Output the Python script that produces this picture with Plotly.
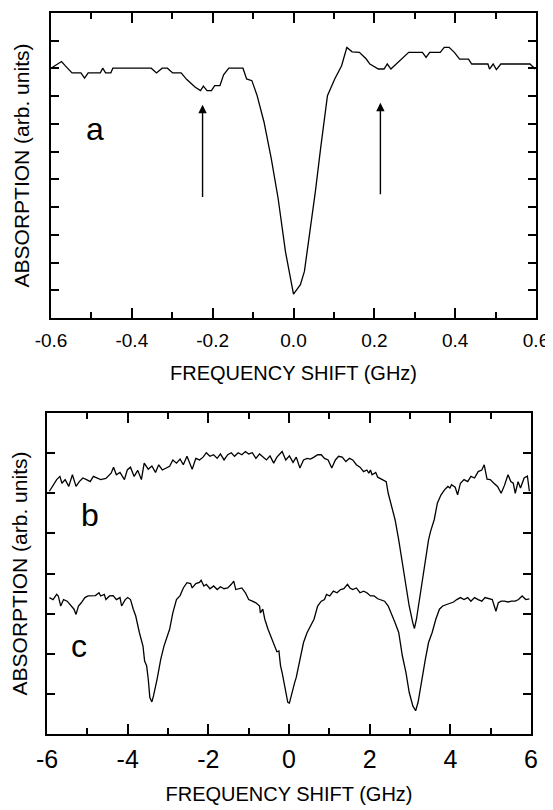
import plotly.graph_objects as go

# ---- panel a (top) ----
a_x = [-0.600, -0.574, -0.565, -0.548, -0.526, -0.517, -0.508, -0.478, -0.472, -0.465,
       -0.452, -0.447, -0.352, -0.339, -0.325, -0.312, -0.299, -0.278, -0.264, -0.243,
       -0.230, -0.223, -0.214, -0.203, -0.195, -0.182, -0.173, -0.160, -0.125, -0.116,
       -0.103, -0.090, -0.073, -0.055, -0.038, -0.020, 0.000, 0.017, 0.027, 0.041,
       0.054, 0.067, 0.084, 0.102, 0.119, 0.132, 0.145, 0.163, 0.180, 0.189,
       0.210, 0.224, 0.232, 0.241, 0.254, 0.267, 0.285, 0.319, 0.328, 0.337,
       0.363, 0.373, 0.385, 0.398, 0.411, 0.433, 0.441, 0.481, 0.485, 0.494,
       0.502, 0.513, 0.585, 0.598]
a_y = [9.01, 9.25, 9.10, 8.84, 8.84, 8.65, 8.84, 8.84, 9.01, 8.84,
       8.84, 9.01, 9.01, 8.84, 9.01, 9.01, 8.84, 8.84, 8.60, 8.32,
       8.20, 8.36, 8.20, 8.20, 8.38, 8.38, 8.77, 9.01, 9.01, 8.62,
       8.56, 8.02, 7.07, 5.75, 4.31, 2.40, 0.86, 1.20, 1.68, 3.11,
       4.55, 6.11, 8.02, 8.62, 9.10, 9.76, 9.60, 9.58, 9.34, 9.16,
       8.98, 8.98, 9.16, 8.98, 9.16, 9.34, 9.58, 9.58, 9.40, 9.58,
       9.58, 9.76, 9.76, 9.58, 9.34, 9.34, 9.16, 9.16, 8.98, 9.16,
       8.96, 9.16, 9.16, 8.98]
a_xticks = [-0.6, -0.4, -0.2, 0.0, 0.2, 0.4, 0.6]
a_xticklabels = ["-0.6", "-0.4", "-0.2", "0.0", "0.2", "0.4", "0.6"]
a_arrow_x = [-0.225, 0.215]
a_arrow_tail = [4.31, 4.41]
a_arrow_head = [7.69, 7.76]

# ---- panels b, c (bottom) ----
b_x = [-5.94, -5.85, -5.76, -5.68, -5.63, -5.55, -5.46, -5.37, -5.33, -5.28,
       -5.20, -5.11, -5.02, -4.93, -4.85, -4.76, -4.67, -4.54, -4.41, -4.35,
       -4.28, -4.19, -4.08, -4.01, -3.93, -3.84, -3.75, -3.66, -3.59, -3.49,
       -3.40, -3.31, -3.23, -3.14, -3.05, -2.96, -2.88, -2.79, -2.70, -2.62,
       -2.53, -2.40, -2.31, -2.22, -2.13, -2.05, -1.96, -1.87, -1.78, -1.70,
       -1.61, -1.52, -1.43, -1.35, -1.26, -1.17, -1.08, -1.00, -0.91, -0.82,
       -0.73, -0.65, -0.56, -0.47, -0.38, -0.30, -0.17, -0.08, 0.01, 0.10,
       0.18, 0.27, 0.36, 0.45, 0.53, 0.62, 0.71, 0.80, 0.88, 0.97,
       1.06, 1.15, 1.23, 1.32, 1.41, 1.50, 1.58, 1.67, 1.76, 1.85,
       1.93, 1.98, 2.02, 2.06, 2.15, 2.20, 2.28, 2.41, 2.46, 2.55,
       2.63, 2.72, 2.81, 2.90, 2.98, 3.07, 3.11, 3.16, 3.25, 3.33,
       3.42, 3.46, 3.51, 3.60, 3.68, 3.77, 3.86, 3.94, 3.99, 4.03,
       4.12, 4.18, 4.25, 4.34, 4.43, 4.51, 4.60, 4.69, 4.78, 4.84,
       4.91, 4.99, 5.08, 5.17, 5.26, 5.34, 5.43, 5.50, 5.56, 5.61,
       5.68, 5.74, 5.83, 5.91, 5.96]
b_y = [6.05, 6.21, 6.34, 6.42, 6.25, 6.34, 6.17, 6.46, 6.34, 6.17,
       6.29, 6.38, 6.34, 6.29, 6.42, 6.38, 6.34, 6.37, 6.50, 6.65,
       6.46, 6.52, 6.34, 6.58, 6.65, 6.42, 6.57, 6.34, 6.75, 6.60,
       6.68, 6.52, 6.71, 6.58, 6.63, 6.67, 6.83, 6.75, 6.85, 6.71,
       6.92, 6.60, 6.87, 6.83, 6.90, 7.01, 6.92, 6.96, 6.87, 6.98,
       6.83, 6.96, 7.01, 6.92, 7.01, 6.96, 7.04, 6.98, 7.01, 6.87,
       6.98, 6.90, 6.83, 6.93, 6.75, 6.90, 7.04, 6.83, 6.93, 6.77,
       6.90, 6.63, 6.83, 6.87, 6.85, 6.90, 6.96, 6.96, 6.87, 6.83,
       6.63, 6.83, 6.92, 6.90, 6.79, 6.87, 6.83, 6.71, 6.65, 6.54,
       6.58, 6.50, 6.58, 6.46, 6.52, 6.40, 6.35, 6.29, 6.00, 5.67,
       5.34, 4.84, 4.27, 3.69, 3.19, 2.77, 2.63, 2.86, 3.44, 4.02,
       4.51, 4.84, 5.05, 5.34, 5.76, 5.96, 6.09, 6.17, 6.13, 6.21,
       6.15, 5.96, 6.25, 6.34, 6.29, 6.42, 6.38, 6.54, 6.58, 6.71,
       6.35, 6.34, 6.25, 6.17, 6.00, 6.19, 6.46, 6.29, 6.25, 6.00,
       6.29, 6.13, 6.38, 6.43, 6.05]

c_x = [-5.94, -5.85, -5.76, -5.72, -5.66, -5.59, -5.50, -5.41, -5.33, -5.28,
       -5.22, -5.15, -5.06, -4.98, -4.89, -4.80, -4.71, -4.67, -4.58, -4.54,
       -4.45, -4.36, -4.28, -4.19, -4.15, -4.06, -4.00, -3.93, -3.86, -3.80,
       -3.71, -3.62, -3.58, -3.53, -3.49, -3.45, -3.40, -3.36, -3.27, -3.18,
       -3.10, -3.01, -2.96, -2.88, -2.79, -2.70, -2.62, -2.53, -2.44, -2.40,
       -2.31, -2.22, -2.18, -2.11, -2.05, -1.96, -1.87, -1.78, -1.70, -1.61,
       -1.52, -1.43, -1.37, -1.32, -1.23, -1.17, -1.08, -1.00, -0.91, -0.82,
       -0.73, -0.71, -0.65, -0.60, -0.52, -0.43, -0.34, -0.30, -0.25, -0.21,
       -0.17, -0.12, -0.08, -0.03, 0.01, 0.05, 0.10, 0.14, 0.18, 0.27,
       0.36, 0.45, 0.53, 0.62, 0.71, 0.80, 0.88, 0.93, 1.01, 1.10,
       1.19, 1.28, 1.36, 1.45, 1.51, 1.58, 1.67, 1.76, 1.85, 1.93,
       2.02, 2.11, 2.20, 2.28, 2.37, 2.46, 2.55, 2.63, 2.72, 2.81,
       2.90, 2.98, 3.07, 3.14, 3.20, 3.29, 3.38, 3.46, 3.55, 3.64,
       3.73, 3.81, 3.90, 3.99, 4.08, 4.16, 4.25, 4.34, 4.43, 4.51,
       4.60, 4.69, 4.78, 4.86, 4.95, 5.04, 5.13, 5.19, 5.26, 5.34,
       5.43, 5.52, 5.61, 5.69, 5.78, 5.87, 5.96]
c_y = [3.40, 3.35, 3.48, 3.44, 3.19, 3.35, 3.31, 3.19, 3.11, 2.98,
       3.19, 3.27, 3.40, 3.44, 3.44, 3.45, 3.52, 3.44, 3.48, 3.35,
       3.44, 3.45, 3.35, 3.40, 3.19, 3.35, 3.40, 3.35, 3.11, 2.94,
       2.53, 2.19, 1.82, 1.70, 1.37, 0.91, 0.80, 0.95, 1.37, 1.86,
       2.19, 2.44, 2.61, 3.02, 3.35, 3.45, 3.64, 3.77, 3.75, 3.64,
       3.75, 3.78, 3.83, 3.69, 3.73, 3.62, 3.69, 3.60, 3.67, 3.62,
       3.64, 3.73, 3.81, 3.60, 3.62, 3.64, 3.52, 3.35, 3.31, 3.27,
       3.19, 3.02, 3.11, 2.86, 2.61, 2.40, 2.19, 2.05, 2.07, 1.70,
       1.53, 1.28, 1.04, 0.79, 0.77, 0.95, 1.12, 1.28, 1.41, 1.86,
       2.28, 2.53, 2.69, 2.86, 3.19, 3.31, 3.35, 3.48, 3.44, 3.56,
       3.52, 3.60, 3.62, 3.73, 3.64, 3.60, 3.64, 3.52, 3.56, 3.52,
       3.44, 3.44, 3.37, 3.35, 3.31, 3.19, 2.98, 2.77, 2.53, 1.95,
       1.53, 1.04, 0.70, 0.58, 0.79, 1.37, 1.86, 2.28, 2.53, 2.86,
       3.11, 3.19, 3.23, 3.27, 3.29, 3.35, 3.40, 3.35, 3.40, 3.31,
       3.40, 3.35, 3.31, 3.40, 3.37, 3.35, 3.06, 3.27, 3.31, 3.31,
       3.29, 3.31, 3.31, 3.35, 3.44, 3.35, 3.37]
bc_xticks = [-6, -4, -2, 0, 2, 4, 6]
bc_xticklabels = ["-6", "-4", "-2", "0", "2", "4", "6"]

FONT = "Liberation Sans, Arial, Helvetica, sans-serif"
# the page body has an 8 px margin, so the figure is drawn 8 px in from the window corner
OFF = 8
W, H = 553 - OFF, 810 - OFF

def dom_x(p0, p1):
    return [(p0 - OFF) / W, (p1 - OFF) / W]

def dom_y(top, bottom):
    return [1 - (bottom - OFF) / H, 1 - (top - OFF) / H]

fig = go.Figure()
line = dict(color="black", width=1.3)
fig.add_trace(go.Scatter(x=a_x, y=a_y, mode="lines", line=line, xaxis="x", yaxis="y", name="a"))
fig.add_trace(go.Scatter(x=b_x, y=b_y, mode="lines", line=line, xaxis="x2", yaxis="y2", name="b"))
fig.add_trace(go.Scatter(x=c_x, y=c_y, mode="lines", line=line, xaxis="x2", yaxis="y2", name="c"))

common_axis = dict(showline=True, linecolor="black", linewidth=2, mirror="ticks",
                   ticks="inside", tickcolor="black", tickwidth=1.5,
                   showgrid=False, zeroline=False, automargin=False)

fig.update_layout(
    template="none",
    width=W, height=H,
    margin=dict(l=0, r=0, t=0, b=0, autoexpand=False),
    paper_bgcolor="white", plot_bgcolor="white",
    showlegend=False,
    font=dict(family=FONT, color="black"),
    xaxis=dict(domain=dom_x(51, 536), anchor="y", range=[-0.6, 0.6], tickvals=a_xticks,
               ticktext=a_xticklabels, ticklen=10, ticklabelstandoff=4,
               tickfont=dict(size=19),
               minor=dict(dtick=0.1, tick0=-0.6, ticklen=6, ticks="inside", tickcolor="black", tickwidth=1.5),
               title=dict(text="FREQUENCY SHIFT (GHz)", font=dict(size=20), standoff=16),
               **common_axis),
    yaxis=dict(domain=dom_y(13, 318), anchor="x", range=[0, 11], dtick=1, tick0=0, ticklen=8,
               showticklabels=False,
               title=dict(text="ABSORPTION (arb. units)", font=dict(size=21), standoff=14),
               **common_axis),
    xaxis2=dict(domain=dom_x(47, 531), anchor="y2", range=[-6, 6], tickvals=bc_xticks,
                ticktext=bc_xticklabels, ticklen=10, ticklabelstandoff=2, tickfont=dict(size=25),
                minor=dict(dtick=1, tick0=-6, ticklen=6, ticks="inside", tickcolor="black", tickwidth=1.5),
                title=dict(text="FREQUENCY SHIFT (GHz)", font=dict(size=20), standoff=15),
                **common_axis),
    yaxis2=dict(domain=dom_y(413, 734), anchor="x2", range=[0, 8], dtick=1, tick0=0, ticklen=8,
                showticklabels=False,
                title=dict(text="ABSORPTION (arb. units)", font=dict(size=21), standoff=17),
                **common_axis),
)

for xv, yt, yh in zip(a_arrow_x, a_arrow_tail, a_arrow_head):
    fig.add_annotation(x=xv, y=yh, ax=xv, ay=yt, xref="x", yref="y", axref="x", ayref="y",
                       showarrow=True, arrowhead=2, arrowsize=1.2, arrowwidth=1.4,
                       arrowcolor="black", text="")

fig.add_annotation(x=-0.49, y=6.8, xref="x", yref="y", text="a", showarrow=False,
                   font=dict(size=32, family=FONT, color="black"))
fig.add_annotation(x=-4.93, y=5.45, xref="x2", yref="y2", text="b", showarrow=False,
                   font=dict(size=32, family=FONT, color="black"))
fig.add_annotation(x=-5.2, y=2.2, xref="x2", yref="y2", text="c", showarrow=False,
                   font=dict(size=32, family=FONT, color="black"))

fig.write_html("out.html")
